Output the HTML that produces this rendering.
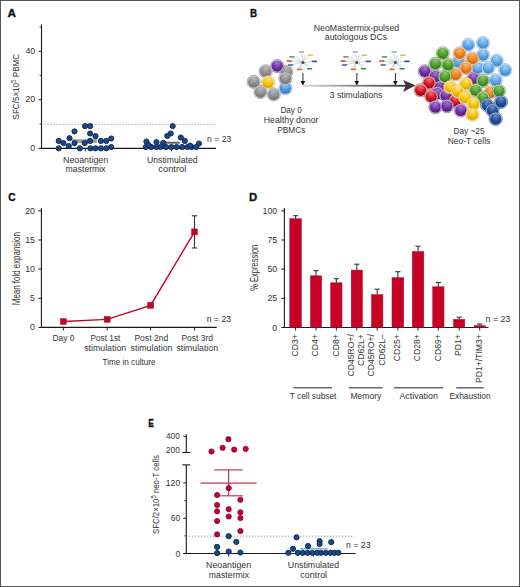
<!DOCTYPE html>
<html><head><meta charset="utf-8"><style>
html,body{margin:0;padding:0;background:#fff;}
svg{display:block;font-family:"Liberation Sans", sans-serif;}
</style></head><body>
<svg width="520" height="587" viewBox="0 0 520 587">
<rect x="0" y="0" width="520" height="587" fill="#fff"/>
<text x="7.5" y="17.1" font-size="11.8" text-anchor="start" fill="#111" font-weight="bold" textLength="8.5" lengthAdjust="spacingAndGlyphs" stroke="#111" stroke-width="0.35">A</text>
<line x1="41.5" y1="24.3" x2="41.5" y2="148.8" stroke="#1a1a1a" stroke-width="1.1" />
<line x1="38.5" y1="148.3" x2="41.5" y2="148.3" stroke="#1a1a1a" stroke-width="1" />
<text x="35.2" y="150.9" font-size="8.8" text-anchor="end" fill="#333333" font-weight="normal" >0</text>
<line x1="38.5" y1="99.8" x2="41.5" y2="99.8" stroke="#1a1a1a" stroke-width="1" />
<text x="35.2" y="102.4" font-size="8.8" text-anchor="end" fill="#333333" font-weight="normal" >20</text>
<line x1="38.5" y1="51.3" x2="41.5" y2="51.3" stroke="#1a1a1a" stroke-width="1" />
<text x="35.2" y="53.9" font-size="8.8" text-anchor="end" fill="#333333" font-weight="normal" >40</text>
<line x1="39.5" y1="124.05" x2="41.5" y2="124.05" stroke="#1a1a1a" stroke-width="0.8" />
<line x1="39.5" y1="75.55" x2="41.5" y2="75.55" stroke="#1a1a1a" stroke-width="0.8" />
<line x1="39.5" y1="27.05" x2="41.5" y2="27.05" stroke="#1a1a1a" stroke-width="0.8" />
<line x1="41.5" y1="124.3" x2="216" y2="124.3" stroke="#555" stroke-width="0.8" stroke-dasharray="0.9 2.1"/>
<line x1="41.5" y1="148.3" x2="216" y2="148.3" stroke="#1a1a1a" stroke-width="1.2" />
<line x1="85.2" y1="148.3" x2="85.2" y2="151.3" stroke="#1a1a1a" stroke-width="1" />
<line x1="171.5" y1="148.3" x2="171.5" y2="151.3" stroke="#1a1a1a" stroke-width="1" />
<rect x="72" y="139.3" width="25" height="3.6" fill="#8a8a8a" opacity="0.85"/>
<rect x="160" y="141.5" width="20" height="2.6" fill="#9a9a9a" opacity="0.8"/>
<line x1="160.6" y1="142.8" x2="179.4" y2="142.8" stroke="#222" stroke-width="0.8" />
<circle cx="85" cy="126.1" r="2.6" fill="#1d4886" stroke="#0a2456" stroke-width="0.9"/>
<circle cx="90.1" cy="126.1" r="2.6" fill="#1d4886" stroke="#0a2456" stroke-width="0.9"/>
<circle cx="74.5" cy="131.4" r="2.6" fill="#1d4886" stroke="#0a2456" stroke-width="0.9"/>
<circle cx="90.1" cy="133.5" r="2.6" fill="#1d4886" stroke="#0a2456" stroke-width="0.9"/>
<circle cx="95.5" cy="136.2" r="2.6" fill="#1d4886" stroke="#0a2456" stroke-width="0.9"/>
<circle cx="69.5" cy="138.2" r="2.6" fill="#1d4886" stroke="#0a2456" stroke-width="0.9"/>
<circle cx="58.7" cy="140.9" r="2.6" fill="#1d4886" stroke="#0a2456" stroke-width="0.9"/>
<circle cx="90.1" cy="140.9" r="2.6" fill="#1d4886" stroke="#0a2456" stroke-width="0.9"/>
<circle cx="100.9" cy="140.9" r="2.6" fill="#1d4886" stroke="#0a2456" stroke-width="0.9"/>
<circle cx="106.3" cy="140.9" r="2.6" fill="#1d4886" stroke="#0a2456" stroke-width="0.9"/>
<circle cx="111.2" cy="138.5" r="2.6" fill="#1d4886" stroke="#0a2456" stroke-width="0.9"/>
<circle cx="63.5" cy="143.1" r="2.6" fill="#1d4886" stroke="#0a2456" stroke-width="0.9"/>
<circle cx="74.5" cy="143.1" r="2.6" fill="#1d4886" stroke="#0a2456" stroke-width="0.9"/>
<circle cx="84.7" cy="143.1" r="2.6" fill="#1d4886" stroke="#0a2456" stroke-width="0.9"/>
<circle cx="58.7" cy="148.3" r="2.6" fill="#1d4886" stroke="#0a2456" stroke-width="0.9"/>
<circle cx="68.8" cy="146" r="2.6" fill="#1d4886" stroke="#0a2456" stroke-width="0.9"/>
<circle cx="79.9" cy="148.3" r="2.6" fill="#1d4886" stroke="#0a2456" stroke-width="0.9"/>
<circle cx="90.4" cy="148.3" r="2.6" fill="#1d4886" stroke="#0a2456" stroke-width="0.9"/>
<circle cx="95.5" cy="148.3" r="2.6" fill="#1d4886" stroke="#0a2456" stroke-width="0.9"/>
<circle cx="100.9" cy="148.3" r="2.6" fill="#1d4886" stroke="#0a2456" stroke-width="0.9"/>
<circle cx="106.3" cy="148.3" r="2.6" fill="#1d4886" stroke="#0a2456" stroke-width="0.9"/>
<circle cx="111.2" cy="147" r="2.6" fill="#1d4886" stroke="#0a2456" stroke-width="0.9"/>
<circle cx="172.7" cy="126.1" r="2.6" fill="#1d4886" stroke="#0a2456" stroke-width="0.9"/>
<circle cx="170.7" cy="133.5" r="2.6" fill="#1d4886" stroke="#0a2456" stroke-width="0.9"/>
<circle cx="167.3" cy="135.9" r="2.6" fill="#1d4886" stroke="#0a2456" stroke-width="0.9"/>
<circle cx="180.8" cy="137.5" r="2.6" fill="#1d4886" stroke="#0a2456" stroke-width="0.9"/>
<circle cx="184.8" cy="140.9" r="2.6" fill="#1d4886" stroke="#0a2456" stroke-width="0.9"/>
<circle cx="146.4" cy="141.5" r="2.6" fill="#1d4886" stroke="#0a2456" stroke-width="0.9"/>
<circle cx="156.5" cy="142.2" r="2.6" fill="#1d4886" stroke="#0a2456" stroke-width="0.9"/>
<circle cx="163.3" cy="142.9" r="2.6" fill="#1d4886" stroke="#0a2456" stroke-width="0.9"/>
<circle cx="198.9" cy="143.6" r="2.6" fill="#1d4886" stroke="#0a2456" stroke-width="0.9"/>
<circle cx="145.8" cy="147" r="2.6" fill="#1d4886" stroke="#0a2456" stroke-width="0.9"/>
<circle cx="151.2" cy="147" r="2.6" fill="#1d4886" stroke="#0a2456" stroke-width="0.9"/>
<circle cx="156.5" cy="147" r="2.6" fill="#1d4886" stroke="#0a2456" stroke-width="0.9"/>
<circle cx="160.6" cy="147" r="2.6" fill="#1d4886" stroke="#0a2456" stroke-width="0.9"/>
<circle cx="166" cy="147" r="2.6" fill="#1d4886" stroke="#0a2456" stroke-width="0.9"/>
<circle cx="171.3" cy="147" r="2.6" fill="#1d4886" stroke="#0a2456" stroke-width="0.9"/>
<circle cx="176.7" cy="147" r="2.6" fill="#1d4886" stroke="#0a2456" stroke-width="0.9"/>
<circle cx="182.1" cy="147" r="2.6" fill="#1d4886" stroke="#0a2456" stroke-width="0.9"/>
<circle cx="187.5" cy="147" r="2.6" fill="#1d4886" stroke="#0a2456" stroke-width="0.9"/>
<circle cx="191.5" cy="147" r="2.6" fill="#1d4886" stroke="#0a2456" stroke-width="0.9"/>
<circle cx="196.2" cy="147" r="2.6" fill="#1d4886" stroke="#0a2456" stroke-width="0.9"/>
<circle cx="148.5" cy="145" r="2.6" fill="#1d4886" stroke="#0a2456" stroke-width="0.9"/>
<circle cx="190.2" cy="145.6" r="2.6" fill="#1d4886" stroke="#0a2456" stroke-width="0.9"/>
<text x="85.6" y="162.6" font-size="9" text-anchor="middle" fill="#333333" font-weight="normal" textLength="45" lengthAdjust="spacingAndGlyphs" >Neoantigen</text>
<text x="85.6" y="171.8" font-size="9" text-anchor="middle" fill="#333333" font-weight="normal" textLength="40" lengthAdjust="spacingAndGlyphs" >mastermix</text>
<text x="172.3" y="162.5" font-size="9" text-anchor="middle" fill="#333333" font-weight="normal" textLength="50.5" lengthAdjust="spacingAndGlyphs" >Unstimulated</text>
<text x="172.3" y="171.5" font-size="9" text-anchor="middle" fill="#333333" font-weight="normal" textLength="28" lengthAdjust="spacingAndGlyphs" >control</text>
<text x="207" y="142.3" font-size="9" text-anchor="start" fill="#333333" font-weight="normal" textLength="24.3" lengthAdjust="spacingAndGlyphs" >n = 23</text>
<text transform="translate(19.3,86.7) rotate(-90)" font-size="9.3" text-anchor="middle" fill="#333333" textLength="65.5" lengthAdjust="spacingAndGlyphs">SFC/5×10<tspan font-size="7.2" dy="-3.6">5</tspan><tspan dy="3.6">  PBMC</tspan></text>
<text x="250" y="17.1" font-size="11.8" text-anchor="start" fill="#111" font-weight="bold" textLength="7.1" lengthAdjust="spacingAndGlyphs" stroke="#111" stroke-width="0.35">B</text>
<defs>
<linearGradient id="arr" x1="0" x2="1" y1="0" y2="0"><stop offset="0" stop-color="#d8d8d8"/><stop offset="0.5" stop-color="#8a8a8a"/><stop offset="1" stop-color="#3a3a3a"/></linearGradient>
<radialGradient id="g_gy" cx="0.5" cy="0.25" r="0.85" fx="0.5" fy="0.2"><stop offset="0" stop-color="#bcbcbe"/><stop offset="0.55" stop-color="#8c8c8e"/><stop offset="1" stop-color="#666668"/></radialGradient>
<radialGradient id="g_pu" cx="0.5" cy="0.25" r="0.85" fx="0.5" fy="0.2"><stop offset="0" stop-color="#a87ad0"/><stop offset="0.55" stop-color="#6e2ea0"/><stop offset="1" stop-color="#45166a"/></radialGradient>
<radialGradient id="g_ye" cx="0.5" cy="0.25" r="0.85" fx="0.5" fy="0.2"><stop offset="0" stop-color="#ffe680"/><stop offset="0.55" stop-color="#f4c000"/><stop offset="1" stop-color="#d09200"/></radialGradient>
<radialGradient id="g_lb" cx="0.5" cy="0.25" r="0.85" fx="0.5" fy="0.2"><stop offset="0" stop-color="#a8d0f4"/><stop offset="0.55" stop-color="#4a94dc"/><stop offset="1" stop-color="#2a64b0"/></radialGradient>
<radialGradient id="g_or" cx="0.5" cy="0.25" r="0.85" fx="0.5" fy="0.2"><stop offset="0" stop-color="#f8b878"/><stop offset="0.55" stop-color="#ee7e1a"/><stop offset="1" stop-color="#c05a08"/></radialGradient>
<radialGradient id="g_gr" cx="0.5" cy="0.25" r="0.85" fx="0.5" fy="0.2"><stop offset="0" stop-color="#90c870"/><stop offset="0.55" stop-color="#4a9a2a"/><stop offset="1" stop-color="#2c6a18"/></radialGradient>
<radialGradient id="g_re" cx="0.5" cy="0.25" r="0.85" fx="0.5" fy="0.2"><stop offset="0" stop-color="#f07070"/><stop offset="0.55" stop-color="#d0101e"/><stop offset="1" stop-color="#8a0010"/></radialGradient>
<radialGradient id="g_db" cx="0.5" cy="0.25" r="0.85" fx="0.5" fy="0.2"><stop offset="0" stop-color="#6a90d0"/><stop offset="0.55" stop-color="#1f4e9a"/><stop offset="1" stop-color="#0e2c66"/></radialGradient>
<radialGradient id="g_sb" cx="0.5" cy="0.25" r="0.85" fx="0.5" fy="0.2"><stop offset="0" stop-color="#a8d2f6"/><stop offset="0.55" stop-color="#5aa2e4"/><stop offset="1" stop-color="#3070c0"/></radialGradient>
</defs>
<rect x="303" y="84.8" width="104" height="1.9" fill="url(#arr)"/>
<path d="M403.2,80 L415.6,85.6 L402.9,92 L405.8,85.8 Z" fill="#38383e"/>
<circle cx="286.3" cy="71.8" r="6.65" fill="#d6d6d8" stroke="#8a8a8a" stroke-width="0.6"/>
<circle cx="286.3" cy="71.8" r="5.65" fill="url(#g_gy)"/>
<circle cx="277.2" cy="66.1" r="6.65" fill="#dccbee" stroke="#7a5a98" stroke-width="0.6"/>
<circle cx="277.2" cy="66.1" r="5.65" fill="url(#g_pu)"/>
<circle cx="265.7" cy="71.3" r="6.65" fill="#d6d6d8" stroke="#8a8a8a" stroke-width="0.6"/>
<circle cx="265.7" cy="71.3" r="5.65" fill="url(#g_gy)"/>
<circle cx="253.7" cy="81.9" r="6.65" fill="#d6d6d8" stroke="#8a8a8a" stroke-width="0.6"/>
<circle cx="253.7" cy="81.9" r="5.65" fill="url(#g_gy)"/>
<circle cx="285.4" cy="88.2" r="6.65" fill="#d4e8fa" stroke="#7aa0c8" stroke-width="0.6"/>
<circle cx="285.4" cy="88.2" r="5.65" fill="url(#g_lb)"/>
<circle cx="285.4" cy="78.6" r="6.65" fill="#d6d6d8" stroke="#8a8a8a" stroke-width="0.6"/>
<circle cx="285.4" cy="78.6" r="5.65" fill="url(#g_gy)"/>
<circle cx="268.1" cy="82.4" r="6.65" fill="#fff0b0" stroke="#c8b070" stroke-width="0.6"/>
<circle cx="268.1" cy="82.4" r="5.65" fill="url(#g_ye)"/>
<circle cx="260.4" cy="92" r="6.65" fill="#d6d6d8" stroke="#8a8a8a" stroke-width="0.6"/>
<circle cx="260.4" cy="92" r="5.65" fill="url(#g_gy)"/>
<circle cx="273.8" cy="94.4" r="6.65" fill="#d6d6d8" stroke="#8a8a8a" stroke-width="0.6"/>
<circle cx="273.8" cy="94.4" r="5.65" fill="url(#g_gy)"/>
<line x1="302.9" y1="62.5" x2="301.86" y2="54.1" stroke="#8a8a8a" stroke-width="0.35" />
<line x1="302.9" y1="62.5" x2="308.9" y2="56.66" stroke="#8a8a8a" stroke-width="0.35" />
<line x1="302.9" y1="62.5" x2="294.1" y2="58.02" stroke="#8a8a8a" stroke-width="0.35" />
<line x1="302.9" y1="62.5" x2="292.02" y2="61.3" stroke="#8a8a8a" stroke-width="0.35" />
<line x1="302.9" y1="62.5" x2="312.1" y2="61.62" stroke="#8a8a8a" stroke-width="0.35" />
<line x1="302.9" y1="62.5" x2="293.06" y2="64.5" stroke="#8a8a8a" stroke-width="0.35" />
<line x1="302.9" y1="62.5" x2="300.26" y2="68.02" stroke="#8a8a8a" stroke-width="0.35" />
<line x1="302.9" y1="62.5" x2="308.26" y2="67.46" stroke="#8a8a8a" stroke-width="0.35" />
<line x1="302.9" y1="62.5" x2="305.3" y2="55.3" stroke="#8a8a8a" stroke-width="0.35" />
<line x1="302.9" y1="62.5" x2="296.5" y2="56.1" stroke="#8a8a8a" stroke-width="0.35" />
<line x1="302.9" y1="62.5" x2="310.1" y2="65.7" stroke="#8a8a8a" stroke-width="0.35" />
<line x1="302.9" y1="62.5" x2="298.1" y2="68.9" stroke="#8a8a8a" stroke-width="0.35" />
<circle cx="302.9" cy="62.5" r="1.6" fill="#555"/>
<rect x="298.8" y="51.2" width="5.6" height="1.6" rx="0.8" fill="#8fa8d8"/>
<rect x="307.6" y="54.4" width="5.6" height="1.6" rx="0.8" fill="#d9c53a"/>
<rect x="289.2" y="56.1" width="5.6" height="1.6" rx="0.8" fill="#5faa55"/>
<rect x="286.5" y="60.2" width="5.6" height="1.6" rx="0.8" fill="#d23a3a"/>
<rect x="311.6" y="60.6" width="5.6" height="1.6" rx="0.8" fill="#2a5aa8"/>
<rect x="287.8" y="64.2" width="5.6" height="1.6" rx="0.8" fill="#5a4e8a"/>
<rect x="296.8" y="68.6" width="5.6" height="1.6" rx="0.8" fill="#e0703a"/>
<rect x="306.8" y="67.9" width="5.6" height="1.6" rx="0.8" fill="#1f9a4a"/>
<line x1="302.9" y1="73.0" x2="302.9" y2="82.5" stroke="#111" stroke-width="0.9" />
<path d="M300.6,81.0 L305.2,81.0 L302.9,85.5 Z" fill="#111"/>
<line x1="356.8" y1="62.5" x2="355.76" y2="54.1" stroke="#8a8a8a" stroke-width="0.35" />
<line x1="356.8" y1="62.5" x2="362.8" y2="56.66" stroke="#8a8a8a" stroke-width="0.35" />
<line x1="356.8" y1="62.5" x2="348.0" y2="58.02" stroke="#8a8a8a" stroke-width="0.35" />
<line x1="356.8" y1="62.5" x2="345.92" y2="61.3" stroke="#8a8a8a" stroke-width="0.35" />
<line x1="356.8" y1="62.5" x2="366.0" y2="61.62" stroke="#8a8a8a" stroke-width="0.35" />
<line x1="356.8" y1="62.5" x2="346.96" y2="64.5" stroke="#8a8a8a" stroke-width="0.35" />
<line x1="356.8" y1="62.5" x2="354.16" y2="68.02" stroke="#8a8a8a" stroke-width="0.35" />
<line x1="356.8" y1="62.5" x2="362.16" y2="67.46" stroke="#8a8a8a" stroke-width="0.35" />
<line x1="356.8" y1="62.5" x2="359.2" y2="55.3" stroke="#8a8a8a" stroke-width="0.35" />
<line x1="356.8" y1="62.5" x2="350.4" y2="56.1" stroke="#8a8a8a" stroke-width="0.35" />
<line x1="356.8" y1="62.5" x2="364.0" y2="65.7" stroke="#8a8a8a" stroke-width="0.35" />
<line x1="356.8" y1="62.5" x2="352.0" y2="68.9" stroke="#8a8a8a" stroke-width="0.35" />
<circle cx="356.8" cy="62.5" r="1.6" fill="#555"/>
<rect x="352.7" y="51.2" width="5.6" height="1.6" rx="0.8" fill="#8fa8d8"/>
<rect x="361.5" y="54.4" width="5.6" height="1.6" rx="0.8" fill="#d9c53a"/>
<rect x="343.1" y="56.1" width="5.6" height="1.6" rx="0.8" fill="#5faa55"/>
<rect x="340.4" y="60.2" width="5.6" height="1.6" rx="0.8" fill="#d23a3a"/>
<rect x="365.5" y="60.6" width="5.6" height="1.6" rx="0.8" fill="#2a5aa8"/>
<rect x="341.7" y="64.2" width="5.6" height="1.6" rx="0.8" fill="#5a4e8a"/>
<rect x="350.7" y="68.6" width="5.6" height="1.6" rx="0.8" fill="#e0703a"/>
<rect x="360.7" y="67.9" width="5.6" height="1.6" rx="0.8" fill="#1f9a4a"/>
<line x1="356.8" y1="73.0" x2="356.8" y2="82.5" stroke="#111" stroke-width="0.9" />
<path d="M354.5,81.0 L359.1,81.0 L356.8,85.5 Z" fill="#111"/>
<line x1="395.4" y1="62.5" x2="394.36" y2="54.1" stroke="#8a8a8a" stroke-width="0.35" />
<line x1="395.4" y1="62.5" x2="401.4" y2="56.66" stroke="#8a8a8a" stroke-width="0.35" />
<line x1="395.4" y1="62.5" x2="386.6" y2="58.02" stroke="#8a8a8a" stroke-width="0.35" />
<line x1="395.4" y1="62.5" x2="384.52" y2="61.3" stroke="#8a8a8a" stroke-width="0.35" />
<line x1="395.4" y1="62.5" x2="404.6" y2="61.62" stroke="#8a8a8a" stroke-width="0.35" />
<line x1="395.4" y1="62.5" x2="385.56" y2="64.5" stroke="#8a8a8a" stroke-width="0.35" />
<line x1="395.4" y1="62.5" x2="392.76" y2="68.02" stroke="#8a8a8a" stroke-width="0.35" />
<line x1="395.4" y1="62.5" x2="400.76" y2="67.46" stroke="#8a8a8a" stroke-width="0.35" />
<line x1="395.4" y1="62.5" x2="397.8" y2="55.3" stroke="#8a8a8a" stroke-width="0.35" />
<line x1="395.4" y1="62.5" x2="389.0" y2="56.1" stroke="#8a8a8a" stroke-width="0.35" />
<line x1="395.4" y1="62.5" x2="402.6" y2="65.7" stroke="#8a8a8a" stroke-width="0.35" />
<line x1="395.4" y1="62.5" x2="390.6" y2="68.9" stroke="#8a8a8a" stroke-width="0.35" />
<circle cx="395.4" cy="62.5" r="1.6" fill="#555"/>
<rect x="391.3" y="51.2" width="5.6" height="1.6" rx="0.8" fill="#8fa8d8"/>
<rect x="400.1" y="54.4" width="5.6" height="1.6" rx="0.8" fill="#d9c53a"/>
<rect x="381.7" y="56.1" width="5.6" height="1.6" rx="0.8" fill="#5faa55"/>
<rect x="379" y="60.2" width="5.6" height="1.6" rx="0.8" fill="#d23a3a"/>
<rect x="404.1" y="60.6" width="5.6" height="1.6" rx="0.8" fill="#2a5aa8"/>
<rect x="380.3" y="64.2" width="5.6" height="1.6" rx="0.8" fill="#5a4e8a"/>
<rect x="389.3" y="68.6" width="5.6" height="1.6" rx="0.8" fill="#e0703a"/>
<rect x="399.3" y="67.9" width="5.6" height="1.6" rx="0.8" fill="#1f9a4a"/>
<line x1="395.4" y1="73.0" x2="395.4" y2="82.5" stroke="#111" stroke-width="0.9" />
<path d="M393.1,81.0 L397.7,81.0 L395.4,85.5 Z" fill="#111"/>
<circle cx="468.2" cy="44.8" r="6.65" fill="#d4e8fa" stroke="#80a4c8" stroke-width="0.6"/>
<circle cx="468.2" cy="44.8" r="5.65" fill="url(#g_sb)"/>
<circle cx="483" cy="43.1" r="6.65" fill="#d4e8fa" stroke="#80a4c8" stroke-width="0.6"/>
<circle cx="483" cy="43.1" r="5.65" fill="url(#g_sb)"/>
<circle cx="458.7" cy="61.7" r="6.65" fill="#d4e8fa" stroke="#80a4c8" stroke-width="0.6"/>
<circle cx="458.7" cy="61.7" r="5.65" fill="url(#g_sb)"/>
<circle cx="477.7" cy="68.1" r="6.65" fill="#d4e8fa" stroke="#80a4c8" stroke-width="0.6"/>
<circle cx="477.7" cy="68.1" r="5.65" fill="url(#g_sb)"/>
<circle cx="483" cy="55" r="6.65" fill="#d4e8fa" stroke="#80a4c8" stroke-width="0.6"/>
<circle cx="483" cy="55" r="5.65" fill="url(#g_sb)"/>
<circle cx="496.7" cy="60.7" r="6.65" fill="#d4e8fa" stroke="#80a4c8" stroke-width="0.6"/>
<circle cx="496.7" cy="60.7" r="5.65" fill="url(#g_sb)"/>
<circle cx="488.3" cy="68.1" r="6.65" fill="#d4e8fa" stroke="#80a4c8" stroke-width="0.6"/>
<circle cx="488.3" cy="68.1" r="5.65" fill="url(#g_sb)"/>
<circle cx="505.2" cy="70.2" r="6.65" fill="#d4e8fa" stroke="#80a4c8" stroke-width="0.6"/>
<circle cx="505.2" cy="70.2" r="5.65" fill="url(#g_sb)"/>
<circle cx="495.7" cy="80.3" r="6.65" fill="#d4e8fa" stroke="#80a4c8" stroke-width="0.6"/>
<circle cx="495.7" cy="80.3" r="5.65" fill="url(#g_sb)"/>
<circle cx="459.7" cy="53.3" r="6.65" fill="#fbd8b8" stroke="#c89a78" stroke-width="0.6"/>
<circle cx="459.7" cy="53.3" r="5.65" fill="url(#g_or)"/>
<circle cx="472.4" cy="58.6" r="6.65" fill="#fbd8b8" stroke="#c89a78" stroke-width="0.6"/>
<circle cx="472.4" cy="58.6" r="5.65" fill="url(#g_or)"/>
<circle cx="466" cy="68.1" r="6.65" fill="#fbd8b8" stroke="#c89a78" stroke-width="0.6"/>
<circle cx="466" cy="68.1" r="5.65" fill="url(#g_or)"/>
<circle cx="455.5" cy="74.4" r="6.65" fill="#fbd8b8" stroke="#c89a78" stroke-width="0.6"/>
<circle cx="455.5" cy="74.4" r="5.65" fill="url(#g_or)"/>
<circle cx="490.4" cy="92.4" r="6.65" fill="#fbd8b8" stroke="#c89a78" stroke-width="0.6"/>
<circle cx="490.4" cy="92.4" r="5.65" fill="url(#g_or)"/>
<circle cx="442.8" cy="53.3" r="6.65" fill="#d4ecc4" stroke="#6a8a5a" stroke-width="0.6"/>
<circle cx="442.8" cy="53.3" r="5.65" fill="url(#g_gr)"/>
<circle cx="435.4" cy="63.8" r="6.65" fill="#d4ecc4" stroke="#6a8a5a" stroke-width="0.6"/>
<circle cx="435.4" cy="63.8" r="5.65" fill="url(#g_gr)"/>
<circle cx="448.1" cy="64.9" r="6.65" fill="#d4ecc4" stroke="#6a8a5a" stroke-width="0.6"/>
<circle cx="448.1" cy="64.9" r="5.65" fill="url(#g_gr)"/>
<circle cx="439.6" cy="85.5" r="6.65" fill="#dccbee" stroke="#7a5a98" stroke-width="0.6"/>
<circle cx="439.6" cy="85.5" r="5.65" fill="url(#g_pu)"/>
<circle cx="424.8" cy="71.3" r="6.65" fill="#dccbee" stroke="#7a5a98" stroke-width="0.6"/>
<circle cx="424.8" cy="71.3" r="5.65" fill="url(#g_pu)"/>
<circle cx="435.4" cy="76.5" r="6.65" fill="#dccbee" stroke="#7a5a98" stroke-width="0.6"/>
<circle cx="435.4" cy="76.5" r="5.65" fill="url(#g_pu)"/>
<circle cx="473.5" cy="78.7" r="6.65" fill="#dccbee" stroke="#7a5a98" stroke-width="0.6"/>
<circle cx="473.5" cy="78.7" r="5.65" fill="url(#g_pu)"/>
<circle cx="444.9" cy="76.5" r="6.65" fill="#d4ecc4" stroke="#6a8a5a" stroke-width="0.6"/>
<circle cx="444.9" cy="76.5" r="5.65" fill="url(#g_gr)"/>
<circle cx="483" cy="80.8" r="6.65" fill="#d4ecc4" stroke="#6a8a5a" stroke-width="0.6"/>
<circle cx="483" cy="80.8" r="5.65" fill="url(#g_gr)"/>
<circle cx="437.5" cy="93.5" r="6.65" fill="#dccbee" stroke="#7a5a98" stroke-width="0.6"/>
<circle cx="437.5" cy="93.5" r="5.65" fill="url(#g_pu)"/>
<circle cx="446" cy="95.6" r="6.65" fill="#dccbee" stroke="#7a5a98" stroke-width="0.6"/>
<circle cx="446" cy="95.6" r="5.65" fill="url(#g_pu)"/>
<circle cx="429" cy="82.9" r="6.65" fill="#f6c4c4" stroke="#a05a5a" stroke-width="0.6"/>
<circle cx="429" cy="82.9" r="5.65" fill="url(#g_re)"/>
<circle cx="420.6" cy="90.3" r="6.65" fill="#f6c4c4" stroke="#a05a5a" stroke-width="0.6"/>
<circle cx="420.6" cy="90.3" r="5.65" fill="url(#g_re)"/>
<circle cx="431.2" cy="96.6" r="6.65" fill="#f6c4c4" stroke="#a05a5a" stroke-width="0.6"/>
<circle cx="431.2" cy="96.6" r="5.65" fill="url(#g_re)"/>
<circle cx="455.5" cy="100.9" r="6.65" fill="#f6c4c4" stroke="#a05a5a" stroke-width="0.6"/>
<circle cx="455.5" cy="100.9" r="5.65" fill="url(#g_re)"/>
<circle cx="450.2" cy="87.1" r="6.65" fill="#fff0b0" stroke="#c8b070" stroke-width="0.6"/>
<circle cx="450.2" cy="87.1" r="5.65" fill="url(#g_ye)"/>
<circle cx="466" cy="83.9" r="6.65" fill="#fff0b0" stroke="#c8b070" stroke-width="0.6"/>
<circle cx="466" cy="83.9" r="5.65" fill="url(#g_ye)"/>
<circle cx="457.6" cy="91.3" r="6.65" fill="#fff0b0" stroke="#c8b070" stroke-width="0.6"/>
<circle cx="457.6" cy="91.3" r="5.65" fill="url(#g_ye)"/>
<circle cx="475.6" cy="90.3" r="6.65" fill="#d4ecc4" stroke="#6a8a5a" stroke-width="0.6"/>
<circle cx="475.6" cy="90.3" r="5.65" fill="url(#g_gr)"/>
<circle cx="498.9" cy="90.9" r="6.65" fill="#d4ecc4" stroke="#6a8a5a" stroke-width="0.6"/>
<circle cx="498.9" cy="90.9" r="5.65" fill="url(#g_gr)"/>
<circle cx="483" cy="97.7" r="6.65" fill="#d4ecc4" stroke="#6a8a5a" stroke-width="0.6"/>
<circle cx="483" cy="97.7" r="5.65" fill="url(#g_gr)"/>
<circle cx="465" cy="97.7" r="6.65" fill="#fff0b0" stroke="#c8b070" stroke-width="0.6"/>
<circle cx="465" cy="97.7" r="5.65" fill="url(#g_ye)"/>
<circle cx="473.5" cy="104" r="6.65" fill="#fff0b0" stroke="#c8b070" stroke-width="0.6"/>
<circle cx="473.5" cy="104" r="5.65" fill="url(#g_ye)"/>
<circle cx="435.4" cy="107.2" r="6.65" fill="#dccbee" stroke="#7a5a98" stroke-width="0.6"/>
<circle cx="435.4" cy="107.2" r="5.65" fill="url(#g_pu)"/>
<circle cx="447" cy="106.2" r="6.65" fill="#dccbee" stroke="#7a5a98" stroke-width="0.6"/>
<circle cx="447" cy="106.2" r="5.65" fill="url(#g_pu)"/>
<circle cx="460.8" cy="110.4" r="6.65" fill="#dccbee" stroke="#7a5a98" stroke-width="0.6"/>
<circle cx="460.8" cy="110.4" r="5.65" fill="url(#g_pu)"/>
<circle cx="472.4" cy="114.6" r="6.65" fill="#fff0b0" stroke="#c8b070" stroke-width="0.6"/>
<circle cx="472.4" cy="114.6" r="5.65" fill="url(#g_ye)"/>
<circle cx="487.2" cy="105.1" r="6.65" fill="#bccbe8" stroke="#3a5070" stroke-width="0.6"/>
<circle cx="487.2" cy="105.1" r="5.65" fill="url(#g_db)"/>
<circle cx="501" cy="101.9" r="6.65" fill="#bccbe8" stroke="#3a5070" stroke-width="0.6"/>
<circle cx="501" cy="101.9" r="5.65" fill="url(#g_db)"/>
<circle cx="492.5" cy="110.4" r="6.65" fill="#bccbe8" stroke="#3a5070" stroke-width="0.6"/>
<circle cx="492.5" cy="110.4" r="5.65" fill="url(#g_db)"/>
<circle cx="495.7" cy="118.9" r="6.65" fill="#bccbe8" stroke="#3a5070" stroke-width="0.6"/>
<circle cx="495.7" cy="118.9" r="5.65" fill="url(#g_db)"/>
<text x="356.5" y="30.5" font-size="8.6" text-anchor="middle" fill="#333333" font-weight="normal" textLength="85.5" lengthAdjust="spacingAndGlyphs" >NeoMastermix-pulsed</text>
<text x="356" y="39.8" font-size="8.6" text-anchor="middle" fill="#333333" font-weight="normal" textLength="62.3" lengthAdjust="spacingAndGlyphs" >autologous DCs</text>
<text x="329.8" y="97.9" font-size="8.6" text-anchor="start" fill="#333333" font-weight="normal" textLength="52.5" lengthAdjust="spacingAndGlyphs" >3 stimulations</text>
<text x="291.1" y="112.7" font-size="8.6" text-anchor="middle" fill="#333333" font-weight="normal" textLength="21.3" lengthAdjust="spacingAndGlyphs" >Day 0</text>
<text x="291.1" y="123" font-size="8.6" text-anchor="middle" fill="#333333" font-weight="normal" textLength="54.7" lengthAdjust="spacingAndGlyphs" >Healthy donor</text>
<text x="291.3" y="132.7" font-size="8.6" text-anchor="middle" fill="#333333" font-weight="normal" textLength="28.2" lengthAdjust="spacingAndGlyphs" >PBMCs</text>
<text x="469" y="133.8" font-size="8.6" text-anchor="middle" fill="#333333" font-weight="normal" textLength="31.2" lengthAdjust="spacingAndGlyphs" >Day ~25</text>
<text x="469" y="144.3" font-size="8.6" text-anchor="middle" fill="#333333" font-weight="normal" textLength="42.6" lengthAdjust="spacingAndGlyphs" >Neo-T cells</text>
<text x="8.3" y="200.9" font-size="11.8" text-anchor="start" fill="#111" font-weight="bold" textLength="7.4" lengthAdjust="spacingAndGlyphs" stroke="#111" stroke-width="0.35">C</text>
<line x1="41.4" y1="208" x2="41.4" y2="327.9" stroke="#1a1a1a" stroke-width="1.1" />
<line x1="38.4" y1="327.4" x2="41.4" y2="327.4" stroke="#1a1a1a" stroke-width="1" />
<text x="35" y="330.4" font-size="8.8" text-anchor="end" fill="#333333" font-weight="normal" >0</text>
<line x1="38.4" y1="298.25" x2="41.4" y2="298.25" stroke="#1a1a1a" stroke-width="1" />
<text x="35" y="301.25" font-size="8.8" text-anchor="end" fill="#333333" font-weight="normal" >5</text>
<line x1="38.4" y1="269.1" x2="41.4" y2="269.1" stroke="#1a1a1a" stroke-width="1" />
<text x="35" y="272.1" font-size="8.8" text-anchor="end" fill="#333333" font-weight="normal" >10</text>
<line x1="38.4" y1="239.95" x2="41.4" y2="239.95" stroke="#1a1a1a" stroke-width="1" />
<text x="35" y="242.95" font-size="8.8" text-anchor="end" fill="#333333" font-weight="normal" >15</text>
<line x1="38.4" y1="210.8" x2="41.4" y2="210.8" stroke="#1a1a1a" stroke-width="1" />
<text x="35" y="213.8" font-size="8.8" text-anchor="end" fill="#333333" font-weight="normal" >20</text>
<line x1="41.4" y1="327.4" x2="216.7" y2="327.4" stroke="#1a1a1a" stroke-width="1.2" />
<line x1="63.4" y1="327.4" x2="63.4" y2="330.4" stroke="#1a1a1a" stroke-width="1" />
<line x1="107.2" y1="327.4" x2="107.2" y2="330.4" stroke="#1a1a1a" stroke-width="1" />
<line x1="150.6" y1="327.4" x2="150.6" y2="330.4" stroke="#1a1a1a" stroke-width="1" />
<line x1="194.5" y1="327.4" x2="194.5" y2="330.4" stroke="#1a1a1a" stroke-width="1" />
<polyline points="63.4,321.5 107.2,319.4 150.6,305.4 194.5,231.9" fill="none" stroke="#c70026" stroke-width="1.4"/>
<line x1="194.5" y1="215.8" x2="194.5" y2="248" stroke="#333" stroke-width="1.1" />
<line x1="191.8" y1="215.8" x2="197.2" y2="215.8" stroke="#333" stroke-width="1.1" />
<line x1="191.8" y1="248" x2="197.2" y2="248" stroke="#333" stroke-width="1.1" />
<rect x="60.4" y="318.5" width="6" height="6" fill="#c70026" stroke="#9e0f2a" stroke-width="0.4"/>
<rect x="104.2" y="316.4" width="6" height="6" fill="#c70026" stroke="#9e0f2a" stroke-width="0.4"/>
<rect x="147.6" y="302.4" width="6" height="6" fill="#c70026" stroke="#9e0f2a" stroke-width="0.4"/>
<rect x="191.5" y="228.9" width="6" height="6" fill="#c70026" stroke="#9e0f2a" stroke-width="0.4"/>
<text x="206.8" y="321.8" font-size="8.6" text-anchor="start" fill="#333333" font-weight="normal" textLength="24.2" lengthAdjust="spacingAndGlyphs" >n = 23</text>
<text x="63.5" y="341.3" font-size="8.3" text-anchor="middle" fill="#333333" font-weight="normal" textLength="22" lengthAdjust="spacingAndGlyphs" >Day 0</text>
<text x="105.4" y="341.3" font-size="8.3" text-anchor="middle" fill="#333333" font-weight="normal" textLength="30" lengthAdjust="spacingAndGlyphs" >Post 1st</text>
<text x="105.2" y="351" font-size="8.3" text-anchor="middle" fill="#333333" font-weight="normal" textLength="42" lengthAdjust="spacingAndGlyphs" >stimulation</text>
<text x="151.3" y="341.3" font-size="8.3" text-anchor="middle" fill="#333333" font-weight="normal" textLength="33.8" lengthAdjust="spacingAndGlyphs" >Post 2nd</text>
<text x="151.5" y="351" font-size="8.3" text-anchor="middle" fill="#333333" font-weight="normal" textLength="41.8" lengthAdjust="spacingAndGlyphs" >stimulation</text>
<text x="197.2" y="341.3" font-size="8.3" text-anchor="middle" fill="#333333" font-weight="normal" textLength="31.4" lengthAdjust="spacingAndGlyphs" >Post 3rd</text>
<text x="197.2" y="351" font-size="8.3" text-anchor="middle" fill="#333333" font-weight="normal" textLength="41.6" lengthAdjust="spacingAndGlyphs" >stimulation</text>
<text x="129" y="365.4" font-size="9.6" text-anchor="middle" fill="#333333" font-weight="normal" textLength="53" lengthAdjust="spacingAndGlyphs" >Time in culture</text>
<text transform="translate(20.2,268.7) rotate(-90)" font-size="10.2" text-anchor="middle" fill="#333333" textLength="73" lengthAdjust="spacingAndGlyphs">Mean fold expansion</text>
<text x="248.9" y="200.7" font-size="11.8" text-anchor="start" fill="#111" font-weight="bold" textLength="8.2" lengthAdjust="spacingAndGlyphs" stroke="#111" stroke-width="0.35">D</text>
<line x1="284.4" y1="208" x2="284.4" y2="328.0" stroke="#1a1a1a" stroke-width="1.1" />
<line x1="281.4" y1="327.5" x2="284.4" y2="327.5" stroke="#1a1a1a" stroke-width="1" />
<text x="277.2" y="330.5" font-size="8.8" text-anchor="end" fill="#333333" font-weight="normal" >0</text>
<line x1="281.4" y1="298.32" x2="284.4" y2="298.32" stroke="#1a1a1a" stroke-width="1" />
<text x="277.2" y="301.32" font-size="8.8" text-anchor="end" fill="#333333" font-weight="normal" >25</text>
<line x1="281.4" y1="269.15" x2="284.4" y2="269.15" stroke="#1a1a1a" stroke-width="1" />
<text x="277.2" y="272.15" font-size="8.8" text-anchor="end" fill="#333333" font-weight="normal" >50</text>
<line x1="281.4" y1="239.97" x2="284.4" y2="239.97" stroke="#1a1a1a" stroke-width="1" />
<text x="277.2" y="242.97" font-size="8.8" text-anchor="end" fill="#333333" font-weight="normal" >75</text>
<line x1="281.4" y1="210.8" x2="284.4" y2="210.8" stroke="#1a1a1a" stroke-width="1" />
<text x="277.2" y="213.8" font-size="8.8" text-anchor="end" fill="#333333" font-weight="normal" >100</text>
<line x1="284.4" y1="327.5" x2="488.5" y2="327.5" stroke="#1a1a1a" stroke-width="1.2" />
<line x1="295.6" y1="215.7" x2="295.6" y2="218.7" stroke="#333" stroke-width="1.1" />
<line x1="293.0" y1="215.7" x2="298.2" y2="215.7" stroke="#333" stroke-width="1.1" />
<rect x="289.8" y="218.7" width="11.6" height="108.8" fill="#c70026" stroke="#9e0f2a" stroke-width="0.5"/>
<line x1="295.6" y1="327.5" x2="295.6" y2="330.5" stroke="#1a1a1a" stroke-width="1" />
<line x1="316.05" y1="270.7" x2="316.05" y2="275.8" stroke="#333" stroke-width="1.1" />
<line x1="313.45" y1="270.7" x2="318.65" y2="270.7" stroke="#333" stroke-width="1.1" />
<rect x="310.5" y="275.8" width="11.1" height="51.7" fill="#c70026" stroke="#9e0f2a" stroke-width="0.5"/>
<line x1="316.05" y1="327.5" x2="316.05" y2="330.5" stroke="#1a1a1a" stroke-width="1" />
<line x1="336.35" y1="278.7" x2="336.35" y2="282.8" stroke="#333" stroke-width="1.1" />
<line x1="333.75" y1="278.7" x2="338.95" y2="278.7" stroke="#333" stroke-width="1.1" />
<rect x="330.7" y="282.8" width="11.3" height="44.7" fill="#c70026" stroke="#9e0f2a" stroke-width="0.5"/>
<line x1="336.35" y1="327.5" x2="336.35" y2="330.5" stroke="#1a1a1a" stroke-width="1" />
<line x1="356.85" y1="264.2" x2="356.85" y2="270.1" stroke="#333" stroke-width="1.1" />
<line x1="354.25" y1="264.2" x2="359.45" y2="264.2" stroke="#333" stroke-width="1.1" />
<rect x="351.2" y="270.1" width="11.3" height="57.4" fill="#c70026" stroke="#9e0f2a" stroke-width="0.5"/>
<line x1="356.85" y1="327.5" x2="356.85" y2="330.5" stroke="#1a1a1a" stroke-width="1" />
<line x1="377.2" y1="289.2" x2="377.2" y2="294.6" stroke="#333" stroke-width="1.1" />
<line x1="374.6" y1="289.2" x2="379.8" y2="289.2" stroke="#333" stroke-width="1.1" />
<rect x="371.5" y="294.6" width="11.4" height="32.9" fill="#c70026" stroke="#9e0f2a" stroke-width="0.5"/>
<line x1="377.2" y1="327.5" x2="377.2" y2="330.5" stroke="#1a1a1a" stroke-width="1" />
<line x1="397.85" y1="271.7" x2="397.85" y2="277.7" stroke="#333" stroke-width="1.1" />
<line x1="395.25" y1="271.7" x2="400.45" y2="271.7" stroke="#333" stroke-width="1.1" />
<rect x="392" y="277.7" width="11.7" height="49.8" fill="#c70026" stroke="#9e0f2a" stroke-width="0.5"/>
<line x1="397.85" y1="327.5" x2="397.85" y2="330.5" stroke="#1a1a1a" stroke-width="1" />
<line x1="418.05" y1="246.2" x2="418.05" y2="251.5" stroke="#333" stroke-width="1.1" />
<line x1="415.45" y1="246.2" x2="420.65" y2="246.2" stroke="#333" stroke-width="1.1" />
<rect x="412.3" y="251.5" width="11.5" height="76.0" fill="#c70026" stroke="#9e0f2a" stroke-width="0.5"/>
<line x1="418.05" y1="327.5" x2="418.05" y2="330.5" stroke="#1a1a1a" stroke-width="1" />
<line x1="438.35" y1="282.5" x2="438.35" y2="286.8" stroke="#333" stroke-width="1.1" />
<line x1="435.75" y1="282.5" x2="440.95" y2="282.5" stroke="#333" stroke-width="1.1" />
<rect x="432.7" y="286.8" width="11.3" height="40.7" fill="#c70026" stroke="#9e0f2a" stroke-width="0.5"/>
<line x1="438.35" y1="327.5" x2="438.35" y2="330.5" stroke="#1a1a1a" stroke-width="1" />
<line x1="459.15" y1="317.2" x2="459.15" y2="319.4" stroke="#333" stroke-width="1.1" />
<line x1="456.55" y1="317.2" x2="461.75" y2="317.2" stroke="#333" stroke-width="1.1" />
<rect x="453.5" y="319.4" width="11.3" height="8.1" fill="#c70026" stroke="#9e0f2a" stroke-width="0.5"/>
<line x1="459.15" y1="327.5" x2="459.15" y2="330.5" stroke="#1a1a1a" stroke-width="1" />
<line x1="479.7" y1="324.0" x2="479.7" y2="325.6" stroke="#333" stroke-width="1.1" />
<line x1="477.1" y1="324.0" x2="482.3" y2="324.0" stroke="#333" stroke-width="1.1" />
<rect x="474.2" y="325.6" width="11.0" height="1.9" fill="#c70026" stroke="#9e0f2a" stroke-width="0.5"/>
<line x1="479.7" y1="327.5" x2="479.7" y2="330.5" stroke="#1a1a1a" stroke-width="1" />
<text x="485.6" y="321.9" font-size="9.2" text-anchor="start" fill="#333333" font-weight="normal" textLength="24.6" lengthAdjust="spacingAndGlyphs" >n = 23</text>
<text transform="translate(258,267.7) rotate(-90)" font-size="10.2" text-anchor="middle" fill="#333333" textLength="46" lengthAdjust="spacingAndGlyphs">% Expression</text>
<text transform="translate(297.9,334.2) rotate(-90)" font-size="8.6" text-anchor="end" fill="#333333">CD3+</text>
<text transform="translate(318.3,334.2) rotate(-90)" font-size="8.6" text-anchor="end" fill="#333333">CD4+</text>
<text transform="translate(338.7,334.2) rotate(-90)" font-size="8.6" text-anchor="end" fill="#333333">CD8+</text>
<text transform="translate(354.0,334.2) rotate(-90)" font-size="8.6" text-anchor="end" fill="#333333">CD45RO+/</text>
<text transform="translate(364.2,334.2) rotate(-90)" font-size="8.6" text-anchor="end" fill="#333333">CD62L+</text>
<text transform="translate(374.4,334.2) rotate(-90)" font-size="8.6" text-anchor="end" fill="#333333">CD45RO+/</text>
<text transform="translate(384.6,334.2) rotate(-90)" font-size="8.6" text-anchor="end" fill="#333333">CD62L–</text>
<text transform="translate(400.1,334.2) rotate(-90)" font-size="8.6" text-anchor="end" fill="#333333">CD25+</text>
<text transform="translate(420.3,334.2) rotate(-90)" font-size="8.6" text-anchor="end" fill="#333333">CD28+</text>
<text transform="translate(440.7,334.2) rotate(-90)" font-size="8.6" text-anchor="end" fill="#333333">CD69+</text>
<text transform="translate(461.4,334.2) rotate(-90)" font-size="8.6" text-anchor="end" fill="#333333">PD1+</text>
<text transform="translate(482.0,334.2) rotate(-90)" font-size="8.6" text-anchor="end" fill="#333333">PD1+/TIM3+</text>
<line x1="293.4" y1="387.8" x2="332" y2="387.8" stroke="#6a6a6a" stroke-width="1.5" />
<text x="313.1" y="398.7" font-size="8.6" text-anchor="middle" fill="#333333" font-weight="normal" textLength="46.5" lengthAdjust="spacingAndGlyphs" >T cell subset</text>
<line x1="348.8" y1="387.8" x2="382.7" y2="387.8" stroke="#6a6a6a" stroke-width="1.5" />
<text x="365.9" y="398.7" font-size="8.6" text-anchor="middle" fill="#333333" font-weight="normal" textLength="31" lengthAdjust="spacingAndGlyphs" >Memory</text>
<line x1="394" y1="387.8" x2="443.3" y2="387.8" stroke="#6a6a6a" stroke-width="1.5" />
<text x="418.7" y="398.7" font-size="8.6" text-anchor="middle" fill="#333333" font-weight="normal" textLength="38.5" lengthAdjust="spacingAndGlyphs" >Activation</text>
<line x1="456.2" y1="387.8" x2="483.7" y2="387.8" stroke="#6a6a6a" stroke-width="1.5" />
<text x="470" y="398.7" font-size="8.6" text-anchor="middle" fill="#333333" font-weight="normal" textLength="41" lengthAdjust="spacingAndGlyphs" >Exhaustion</text>
<text x="148.3" y="426.8" font-size="11.8" text-anchor="start" fill="#111" font-weight="bold" textLength="5.6" lengthAdjust="spacingAndGlyphs" stroke="#111" stroke-width="0.35">E</text>
<line x1="186.3" y1="464.9" x2="186.3" y2="554.0" stroke="#1a1a1a" stroke-width="1.1" />
<line x1="182.3" y1="464.9" x2="190.3" y2="464.9" stroke="#1a1a1a" stroke-width="1.1" />
<line x1="183.3" y1="553.5" x2="186.3" y2="553.5" stroke="#1a1a1a" stroke-width="1" />
<text x="180.2" y="556.5" font-size="8.6" text-anchor="end" fill="#333333" font-weight="normal" >0</text>
<line x1="183.3" y1="518.2" x2="186.3" y2="518.2" stroke="#1a1a1a" stroke-width="1" />
<text x="180.2" y="521.2" font-size="8.6" text-anchor="end" fill="#333333" font-weight="normal" >60</text>
<line x1="183.3" y1="482.9" x2="186.3" y2="482.9" stroke="#1a1a1a" stroke-width="1" />
<text x="180.2" y="485.9" font-size="8.6" text-anchor="end" fill="#333333" font-weight="normal" >120</text>
<line x1="184.3" y1="535.85" x2="186.3" y2="535.85" stroke="#1a1a1a" stroke-width="0.8" />
<line x1="184.3" y1="500.55" x2="186.3" y2="500.55" stroke="#1a1a1a" stroke-width="0.8" />
<line x1="186.3" y1="434.2" x2="186.3" y2="452.5" stroke="#1a1a1a" stroke-width="1.1" />
<line x1="183.3" y1="436.3" x2="186.3" y2="436.3" stroke="#1a1a1a" stroke-width="1" />
<line x1="182.3" y1="452.5" x2="190.3" y2="452.5" stroke="#1a1a1a" stroke-width="1.1" />
<text x="179.8" y="439.4" font-size="8.3" text-anchor="end" fill="#333333" font-weight="normal" >400</text>
<text x="179.8" y="453.3" font-size="8.3" text-anchor="end" fill="#333333" font-weight="normal" >200</text>
<line x1="186.3" y1="553.5" x2="355.6" y2="553.5" stroke="#1a1a1a" stroke-width="1.2" />
<line x1="228.7" y1="553.5" x2="228.7" y2="556.5" stroke="#1a1a1a" stroke-width="1" />
<line x1="313.5" y1="553.5" x2="313.5" y2="556.5" stroke="#1a1a1a" stroke-width="1" />
<line x1="186.3" y1="536.2" x2="354.6" y2="536.2" stroke="#555" stroke-width="0.8" stroke-dasharray="0.9 2.1"/>
<line x1="200.5" y1="483.1" x2="256.5" y2="483.1" stroke="#c8354f" stroke-width="1.3" />
<line x1="228.6" y1="469.9" x2="228.6" y2="495.8" stroke="#c8354f" stroke-width="1.2" />
<line x1="214.3" y1="469.9" x2="242.7" y2="469.9" stroke="#c8354f" stroke-width="1.2" />
<line x1="220" y1="495.8" x2="242.7" y2="495.8" stroke="#c8354f" stroke-width="1.2" />
<circle cx="211.5" cy="451.5" r="2.6" fill="#c8003a" stroke="#8a0020" stroke-width="0.8"/>
<circle cx="222.6" cy="447.8" r="2.6" fill="#c8003a" stroke="#8a0020" stroke-width="0.8"/>
<circle cx="228.4" cy="439.2" r="2.6" fill="#c8003a" stroke="#8a0020" stroke-width="0.8"/>
<circle cx="234.2" cy="449.6" r="2.6" fill="#c8003a" stroke="#8a0020" stroke-width="0.8"/>
<circle cx="245.7" cy="448.9" r="2.6" fill="#c8003a" stroke="#8a0020" stroke-width="0.8"/>
<circle cx="217.1" cy="495" r="2.6" fill="#c8003a" stroke="#8a0020" stroke-width="0.8"/>
<circle cx="228.7" cy="488.1" r="2.6" fill="#c8003a" stroke="#8a0020" stroke-width="0.8"/>
<circle cx="240.4" cy="499.8" r="2.6" fill="#c8003a" stroke="#8a0020" stroke-width="0.8"/>
<circle cx="217.1" cy="505" r="2.6" fill="#c8003a" stroke="#8a0020" stroke-width="0.8"/>
<circle cx="217.1" cy="511.3" r="2.6" fill="#c8003a" stroke="#8a0020" stroke-width="0.8"/>
<circle cx="228.7" cy="509.2" r="2.6" fill="#c8003a" stroke="#8a0020" stroke-width="0.8"/>
<circle cx="240.4" cy="512.3" r="2.6" fill="#c8003a" stroke="#8a0020" stroke-width="0.8"/>
<circle cx="228.7" cy="516.5" r="2.6" fill="#c8003a" stroke="#8a0020" stroke-width="0.8"/>
<circle cx="240.4" cy="518" r="2.6" fill="#c8003a" stroke="#8a0020" stroke-width="0.8"/>
<circle cx="217.1" cy="521" r="2.6" fill="#c8003a" stroke="#8a0020" stroke-width="0.8"/>
<circle cx="240.4" cy="531" r="2.6" fill="#c8003a" stroke="#8a0020" stroke-width="0.8"/>
<circle cx="217.1" cy="534.4" r="2.6" fill="#c8003a" stroke="#8a0020" stroke-width="0.8"/>
<circle cx="228.7" cy="536.2" r="2.6" fill="#1d4886" stroke="#0a2456" stroke-width="0.9"/>
<circle cx="236.3" cy="541.9" r="2.6" fill="#1d4886" stroke="#0a2456" stroke-width="0.9"/>
<circle cx="217.1" cy="546.9" r="2.6" fill="#1d4886" stroke="#0a2456" stroke-width="0.9"/>
<circle cx="217.1" cy="553.1" r="2.6" fill="#1d4886" stroke="#0a2456" stroke-width="0.9"/>
<circle cx="228.7" cy="551.5" r="2.6" fill="#1d4886" stroke="#0a2456" stroke-width="0.9"/>
<circle cx="240.4" cy="552.5" r="2.6" fill="#1d4886" stroke="#0a2456" stroke-width="0.9"/>
<line x1="300.8" y1="548.8" x2="327.7" y2="548.8" stroke="#6a9ad0" stroke-width="1.2" />
<circle cx="296.5" cy="537.3" r="2.6" fill="#1d4886" stroke="#0a2456" stroke-width="0.9"/>
<circle cx="331.2" cy="542.1" r="2.6" fill="#1d4886" stroke="#0a2456" stroke-width="0.9"/>
<circle cx="319.6" cy="541.2" r="2.6" fill="#1d4886" stroke="#0a2456" stroke-width="0.9"/>
<circle cx="319.6" cy="544" r="2.6" fill="#1d4886" stroke="#0a2456" stroke-width="0.9"/>
<circle cx="308" cy="546" r="2.6" fill="#1d4886" stroke="#0a2456" stroke-width="0.9"/>
<circle cx="293" cy="548.8" r="2.6" fill="#1d4886" stroke="#0a2456" stroke-width="0.9"/>
<circle cx="288.3" cy="552.8" r="2.6" fill="#1d4886" stroke="#0a2456" stroke-width="0.9"/>
<circle cx="297.9" cy="552.8" r="2.6" fill="#1d4886" stroke="#0a2456" stroke-width="0.9"/>
<circle cx="302.7" cy="552.8" r="2.6" fill="#1d4886" stroke="#0a2456" stroke-width="0.9"/>
<circle cx="307.5" cy="552.8" r="2.6" fill="#1d4886" stroke="#0a2456" stroke-width="0.9"/>
<circle cx="312.3" cy="552.8" r="2.6" fill="#1d4886" stroke="#0a2456" stroke-width="0.9"/>
<circle cx="317.1" cy="552.8" r="2.6" fill="#1d4886" stroke="#0a2456" stroke-width="0.9"/>
<circle cx="321" cy="552.8" r="2.6" fill="#1d4886" stroke="#0a2456" stroke-width="0.9"/>
<circle cx="325.8" cy="552.8" r="2.6" fill="#1d4886" stroke="#0a2456" stroke-width="0.9"/>
<circle cx="330.6" cy="552.8" r="2.6" fill="#1d4886" stroke="#0a2456" stroke-width="0.9"/>
<circle cx="334.4" cy="552.8" r="2.6" fill="#1d4886" stroke="#0a2456" stroke-width="0.9"/>
<circle cx="338.3" cy="552.8" r="2.6" fill="#1d4886" stroke="#0a2456" stroke-width="0.9"/>
<text x="346" y="548.2" font-size="9" text-anchor="start" fill="#333333" font-weight="normal" textLength="24.5" lengthAdjust="spacingAndGlyphs" >n = 23</text>
<text x="228.6" y="568" font-size="9" text-anchor="middle" fill="#333333" font-weight="normal" textLength="45" lengthAdjust="spacingAndGlyphs" >Neoantigen</text>
<text x="229" y="578" font-size="9" text-anchor="middle" fill="#333333" font-weight="normal" textLength="40.4" lengthAdjust="spacingAndGlyphs" >mastermix</text>
<text x="313.5" y="568" font-size="9" text-anchor="middle" fill="#333333" font-weight="normal" textLength="51.3" lengthAdjust="spacingAndGlyphs" >Unstimulated</text>
<text x="313.7" y="578" font-size="9" text-anchor="middle" fill="#333333" font-weight="normal" textLength="26.8" lengthAdjust="spacingAndGlyphs" >control</text>
<text transform="translate(159.2,494.5) rotate(-90)" font-size="9.6" text-anchor="middle" fill="#333333" textLength="79" lengthAdjust="spacingAndGlyphs">SFC/2×10<tspan font-size="7.2" dy="-3.6">5</tspan><tspan dy="3.6">  neo-T cells</tspan></text>
<rect x="0.5" y="0.5" width="519" height="586" fill="none" stroke="#555" stroke-width="1"/>
</svg></body></html>
